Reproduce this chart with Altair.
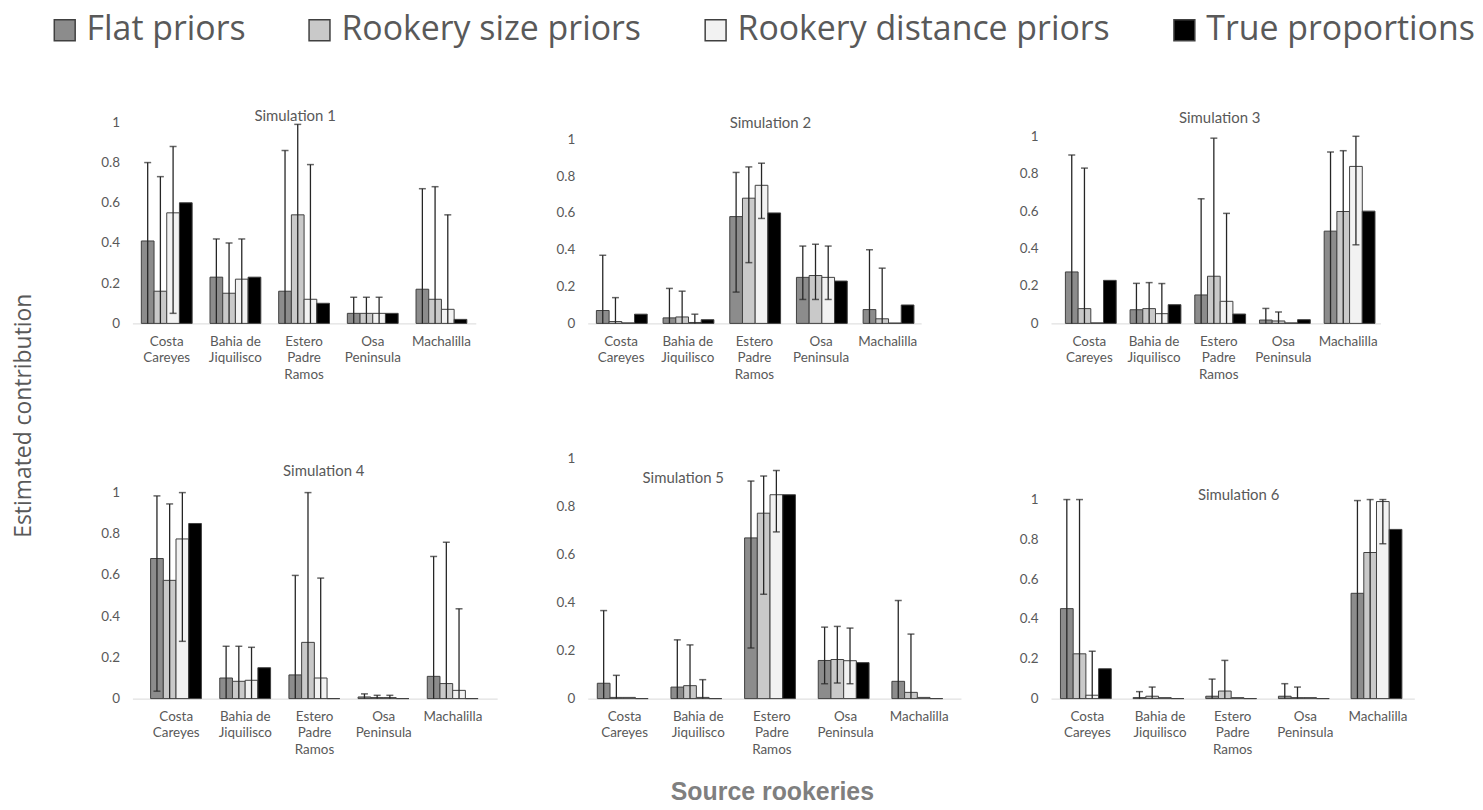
import altair as alt
import pandas as pd

SIMS = ["Simulation 1", "Simulation 2", "Simulation 3", "Simulation 4", "Simulation 5", "Simulation 6"]
SITES = ["Costa Careyes", "Bahia de Jiquilisco", "Estero Padre Ramos", "Osa Peninsula", "Machalilla"]
SERIES = ["Flat priors", "Rookery size priors", "Rookery distance priors", "True proportions"]
COLORS = ["#8c8c8c", "#c9c9c9", "#f2f2f2", "#000000"]
Y_TICKS = [0, 0.2, 0.4, 0.6, 0.8, 1]

# per simulation (rows) x site (columns)
FLAT_VALUES = [
    [0.41, 0.23, 0.16, 0.05, 0.17],
    [0.07, 0.03, 0.58, 0.25, 0.075],
    [0.275, 0.073, 0.152, 0.018, 0.493],
    [0.68, 0.10, 0.115, 0.008, 0.108],
    [0.064, 0.048, 0.67, 0.159, 0.072],
    [0.452, 0.005, 0.012, 0.012, 0.529],
]
FLAT_LOWER = [
    [0, 0, 0, 0, 0],
    [0, 0, 0.17, 0.13, 0],
    [0, 0, 0, 0, 0],
    [0.036, 0, 0, 0, 0],
    [0, 0, 0.211, 0.062, 0],
    [0, 0, 0, 0, 0],
]
FLAT_UPPER = [
    [0.80, 0.42, 0.86, 0.13, 0.67],
    [0.37, 0.19, 0.82, 0.42, 0.40],
    [0.90, 0.214, 0.666, 0.08, 0.916],
    [0.984, 0.254, 0.598, 0.023, 0.69],
    [0.367, 0.245, 0.907, 0.298, 0.409],
    [1.0, 0.035, 0.098, 0.075, 0.995],
]
SIZE_VALUES = [
    [0.16, 0.15, 0.54, 0.05, 0.12],
    [0.01, 0.035, 0.68, 0.26, 0.025],
    [0.079, 0.079, 0.252, 0.013, 0.598],
    [0.574, 0.084, 0.273, 0.005, 0.073],
    [0.005, 0.054, 0.773, 0.163, 0.026],
    [0.225, 0.012, 0.038, 0.005, 0.734],
]
SIZE_LOWER = [
    [0, 0, 0, 0, 0],
    [0, 0, 0.33, 0.13, 0],
    [0, 0, 0, 0, 0],
    [0, 0, 0, 0, 0],
    [0, 0, 0.435, 0.065, 0],
    [0, 0, 0, 0, 0],
]
SIZE_UPPER = [
    [0.73, 0.40, 0.99, 0.13, 0.68],
    [0.14, 0.175, 0.85, 0.43, 0.30],
    [0.83, 0.218, 0.99, 0.061, 0.923],
    [0.945, 0.254, 1.0, 0.016, 0.759],
    [0.097, 0.224, 0.928, 0.301, 0.269],
    [1.0, 0.058, 0.192, 0.058, 1.0],
]
DIST_VALUES = [
    [0.55, 0.22, 0.12, 0.05, 0.07],
    [0.003, 0.005, 0.75, 0.25, 0.002],
    [0.003, 0.052, 0.118, 0.003, 0.839],
    [0.775, 0.089, 0.10, 0.005, 0.04],
    [0.005, 0.005, 0.85, 0.158, 0.005],
    [0.017, 0.005, 0.005, 0.005, 0.99],
]
DIST_LOWER = [
    [0.05, 0, 0, 0, 0],
    [0, 0, 0.57, 0.13, 0],
    [0, 0, 0, 0, 0.42],
    [0.278, 0, 0, 0, 0],
    [0, 0, 0.695, 0.062, 0],
    [0, 0, 0, 0, 0.778],
]
DIST_UPPER = [
    [0.88, 0.42, 0.79, 0.13, 0.54],
    [None, 0.05, 0.87, 0.42, None],
    [None, 0.213, 0.588, None, 1.0],
    [1.0, 0.249, 0.585, 0.016, 0.436],
    [None, 0.079, 0.951, 0.294, None],
    [0.238, None, None, None, 1.0],
]
TRUE_VALUES = [
    [0.6, 0.23, 0.1, 0.05, 0.02],
    [0.05, 0.02, 0.6, 0.23, 0.1],
    [0.23, 0.1, 0.05, 0.02, 0.6],
    [0.85, 0.15, 0, 0, 0],
    [0, 0, 0.85, 0.15, 0],
    [0.15, 0, 0, 0, 0.85],
]

rows = []
series_data = [
    (SERIES[0], FLAT_VALUES, FLAT_LOWER, FLAT_UPPER),
    (SERIES[1], SIZE_VALUES, SIZE_LOWER, SIZE_UPPER),
    (SERIES[2], DIST_VALUES, DIST_LOWER, DIST_UPPER),
    (SERIES[3], TRUE_VALUES, None, None),
]
for si, sim in enumerate(SIMS):
    for ji, site in enumerate(SITES):
        for name, vals, lows, ups in series_data:
            hi = ups[si][ji] if ups is not None else None
            lo = lows[si][ji] if (lows is not None and hi is not None) else None
            rows.append({"sim": sim, "site": site, "series": name,
                         "value": vals[si][ji], "lo": lo, "hi": hi})
df = pd.DataFrame(rows)

FONT = "Lato"
TXT = "#595959"
ERR = "#262626"

# layout per panel: width, plot height, y max, paddingOuter, align, title dx, title offset
PANELS = [
    dict(w=345, h=212, ymax=212 / 202, po=0.13, al=0.5, dx=-9, off=-19),
    dict(w=335, h=212, ymax=212 / 185, po=0.13, al=0.5, dx=16, off=-26),
    dict(w=331, h=212, ymax=212 / 188, po=0.176, al=0.631, dx=4, off=-21),
    dict(w=366.5, h=247, ymax=247 / 207, po=0.2667, al=0.493, dx=9, off=-33),
    dict(w=375, h=247, ymax=247 / 241, po=0.1638, al=0.397, dx=-91.5, off=-41),
    dict(w=365, h=247, ymax=247 / 200, po=0.13, al=0.5, dx=6, off=-57),
]

label_expr = ("datum.label == 'Bahia de Jiquilisco' ? ['Bahia de', 'Jiquilisco'] : "
              "split(datum.label, ' ')")


def panel(i):
    p = PANELS[i]
    base = alt.Chart(df).transform_filter(alt.datum.sim == SIMS[i])
    axis_kw = dict(labelAngle=0, labelExpr=label_expr, labelLineHeight=16.5,
                   labelPadding=11, domainColor="#d9d9d9", ticks=False,
                   labelBaseline="top")
    if i == 4:
        axis_kw.update(title="Source rookeries", titleFont="Liberation Sans",
                       titleFontWeight="bold", titleFontSize=25, titleColor="#7f7f7f",
                       titleY=93, titleX=185, titleBaseline="middle")
    else:
        axis_kw.update(title=None)
    x = alt.X("site:N", sort=SITES,
              scale=alt.Scale(paddingInner=0.26, paddingOuter=p["po"], align=p["al"]),
              axis=alt.Axis(**axis_kw))
    xo = alt.XOffset("series:N", sort=SERIES,
                     scale=alt.Scale(paddingInner=0, paddingOuter=0))
    yscale = alt.Scale(domain=[0, p["ymax"]], nice=False, zero=True)
    y = alt.Y("value:Q", scale=yscale,
              axis=alt.Axis(values=Y_TICKS, format="~g", title=None, domain=False,
                            ticks=False, grid=False, labelPadding=13))
    bars = base.mark_bar(stroke="#404040", strokeWidth=1).encode(
        x=x, xOffset=xo, y=y,
        color=alt.Color("series:N", sort=SERIES,
                        scale=alt.Scale(domain=SERIES, range=COLORS),
                        legend=alt.Legend(title=None)),
    )
    eb = base.transform_filter("isValid(datum.hi)")
    rules = eb.mark_rule(color=ERR, strokeWidth=1.3).encode(
        x=x, xOffset=xo, y=alt.Y("lo:Q", scale=yscale), y2="hi:Q")
    caps_hi = eb.mark_tick(color=ERR, orient="horizontal", size=7, thickness=1.5).encode(
        x=x, xOffset=xo, y=alt.Y("hi:Q", scale=yscale))
    caps_lo = eb.transform_filter("datum.lo > 0").mark_tick(
        color=ERR, orient="horizontal", size=7, thickness=1.5).encode(
        x=x, xOffset=xo, y=alt.Y("lo:Q", scale=yscale))
    return alt.layer(bars, rules, caps_hi, caps_lo).properties(
        width=p["w"], height=p["h"],
        title=alt.TitleParams(SIMS[i], anchor="middle", frame="group", offset=p["off"],
                              dx=p["dx"], baseline="middle", fontSize=15, font=FONT,
                              fontWeight="normal", color=TXT),
    )


chart = alt.concat(*[panel(i) for i in range(6)], columns=3,
                   spacing={"row": 130, "column": 90.5}, bounds="flush",
                   align="each").properties(
    title=alt.TitleParams("Estimated contribution", orient="left", anchor="middle",
                          fontSize=23, font="Open Sans", fontWeight="normal", color=TXT,
                          offset=11.5, dx=-7),
    padding={"left": 5, "top": 3, "right": 0, "bottom": 0},
).configure_view(stroke=None).configure_axis(
    labelFont=FONT, labelFontSize=13.5, labelColor=TXT, grid=False,
).configure_legend(
    orient="none", legendX=-85, legendY=-99.5, direction="horizontal",
    symbolType="square", symbolSize=441, symbolStrokeColor="#404040",
    symbolStrokeWidth=1.5, labelFont="Open Sans", labelFontSize=34, labelColor=TXT,
    labelLimit=600, columnPadding=57, labelOffset=5,
)

chart.save("out.html", embed_options={"renderer": "svg", "actions": False})
